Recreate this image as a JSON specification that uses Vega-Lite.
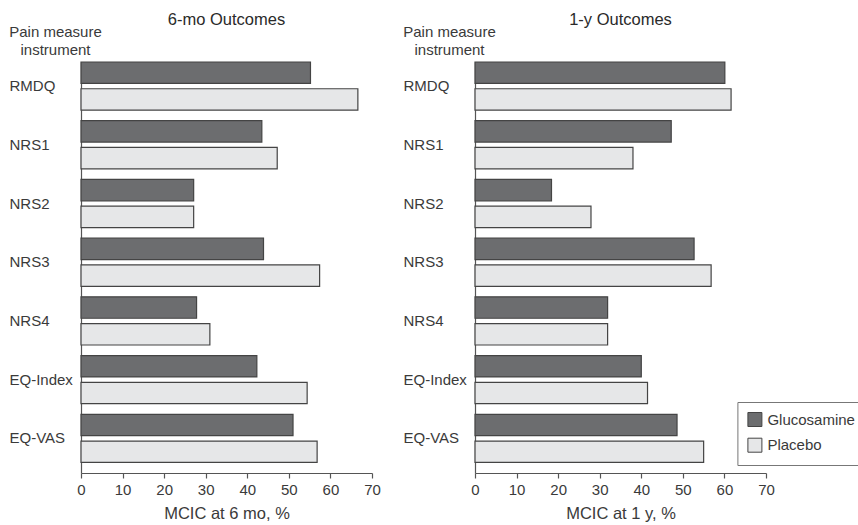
{
  "$schema": "https://vega.github.io/schema/vega-lite/v6.json",
  "padding": {"left": 8, "top": 12, "right": 0, "bottom": 3},
  "background": "white",
  "data": {"values": [
    {"period": "6mo", "instrument": "RMDQ", "group": "Glucosamine", "value": 55.2},
    {"period": "6mo", "instrument": "RMDQ", "group": "Placebo", "value": 66.6},
    {"period": "6mo", "instrument": "NRS1", "group": "Glucosamine", "value": 43.5},
    {"period": "6mo", "instrument": "NRS1", "group": "Placebo", "value": 47.2},
    {"period": "6mo", "instrument": "NRS2", "group": "Glucosamine", "value": 27.1},
    {"period": "6mo", "instrument": "NRS2", "group": "Placebo", "value": 27.1},
    {"period": "6mo", "instrument": "NRS3", "group": "Glucosamine", "value": 43.9},
    {"period": "6mo", "instrument": "NRS3", "group": "Placebo", "value": 57.4},
    {"period": "6mo", "instrument": "NRS4", "group": "Glucosamine", "value": 27.8},
    {"period": "6mo", "instrument": "NRS4", "group": "Placebo", "value": 31.0},
    {"period": "6mo", "instrument": "EQ-Index", "group": "Glucosamine", "value": 42.3},
    {"period": "6mo", "instrument": "EQ-Index", "group": "Placebo", "value": 54.4},
    {"period": "6mo", "instrument": "EQ-VAS", "group": "Glucosamine", "value": 51.0},
    {"period": "6mo", "instrument": "EQ-VAS", "group": "Placebo", "value": 56.8},
    {"period": "1y", "instrument": "RMDQ", "group": "Glucosamine", "value": 60.1},
    {"period": "1y", "instrument": "RMDQ", "group": "Placebo", "value": 61.6},
    {"period": "1y", "instrument": "NRS1", "group": "Glucosamine", "value": 47.2},
    {"period": "1y", "instrument": "NRS1", "group": "Placebo", "value": 38.0},
    {"period": "1y", "instrument": "NRS2", "group": "Glucosamine", "value": 18.4},
    {"period": "1y", "instrument": "NRS2", "group": "Placebo", "value": 27.9},
    {"period": "1y", "instrument": "NRS3", "group": "Glucosamine", "value": 52.7},
    {"period": "1y", "instrument": "NRS3", "group": "Placebo", "value": 56.8},
    {"period": "1y", "instrument": "NRS4", "group": "Glucosamine", "value": 31.9},
    {"period": "1y", "instrument": "NRS4", "group": "Placebo", "value": 31.9},
    {"period": "1y", "instrument": "EQ-Index", "group": "Glucosamine", "value": 40.0},
    {"period": "1y", "instrument": "EQ-Index", "group": "Placebo", "value": 41.5},
    {"period": "1y", "instrument": "EQ-VAS", "group": "Glucosamine", "value": 48.6},
    {"period": "1y", "instrument": "EQ-VAS", "group": "Placebo", "value": 55.0}
  ]},
  "spacing": 103,
  "bounds": "flush",
  "resolve": {"scale": {"color": "independent"}, "legend": {"color": "independent"}},
  "config": {
    "view": {"stroke": null},
    "font": "Liberation Sans",
    "axis": {
      "grid": false,
      "domainColor": "#555",
      "domainWidth": 1.2,
      "tickColor": "#555",
      "tickWidth": 1.2,
      "labelColor": "#3a3a3a",
      "titleColor": "#3a3a3a",
      "labelFont": "Liberation Sans",
      "titleFont": "Liberation Sans",
      "labelFontSize": 15,
      "titleFontWeight": "normal"
    },
    "title": {"font": "Liberation Sans", "fontSize": 16.5, "fontWeight": "normal", "color": "#2a2a2a", "baseline": "alphabetic", "offset": -4, "anchor": "middle", "frame": "group"}
  },
  "hconcat": [
    {
      "width": 291,
      "height": 411,
      "transform": [{"filter": "datum.period === '6mo'"}],
      "title": {"text": "6-mo Outcomes"},
      "mark": {"type": "bar", "stroke": "#444", "strokeWidth": 1.2},
      "encoding": {
        "y": {"field": "instrument", "type": "nominal", "sort": ["RMDQ", "NRS1", "NRS2", "NRS3", "NRS4", "EQ-Index", "EQ-VAS"],
          "scale": {"paddingInner": 0.18, "paddingOuter": 0.09, "align": 0},
          "axis": {"title": ["Pain measure", "instrument"], "titleAngle": 0, "titleAlign": "center", "titleBaseline": "alphabetic", "titleX": -26, "titleY": -25.5, "titleFontSize": 15, "titleLineHeight": 18, "labelAlign": "left", "labelPadding": 72, "ticks": false, "tickSize": 0}},
        "yOffset": {"field": "group", "sort": ["Glucosamine", "Placebo"], "scale": {"paddingInner": 0.2}},
        "x": {"field": "value", "type": "quantitative", "scale": {"domain": [0, 70], "nice": false},
          "axis": {"values": [0, 10, 20, 30, 40, 50, 60, 70], "title": "MCIC at 6 mo, %", "titleFontSize": 16.5, "tickSize": 5, "labelPadding": 4, "titlePadding": 8, "labelFlush": false, "labelOverlap": false}},
        "color": {"field": "group", "type": "nominal", "scale": {"domain": ["Glucosamine", "Placebo"], "range": ["#6c6d6f", "#e6e7e8"]}, "legend": null}
      }
    },
    {
      "width": 291,
      "height": 411,
      "transform": [{"filter": "datum.period === '1y'"}],
      "title": {"text": "1-y Outcomes"},
      "mark": {"type": "bar", "stroke": "#444", "strokeWidth": 1.2},
      "encoding": {
        "y": {"field": "instrument", "type": "nominal", "sort": ["RMDQ", "NRS1", "NRS2", "NRS3", "NRS4", "EQ-Index", "EQ-VAS"],
          "scale": {"paddingInner": 0.18, "paddingOuter": 0.09, "align": 0},
          "axis": {"title": ["Pain measure", "instrument"], "titleAngle": 0, "titleAlign": "center", "titleBaseline": "alphabetic", "titleX": -26, "titleY": -25.5, "titleFontSize": 15, "titleLineHeight": 18, "labelAlign": "left", "labelPadding": 72, "ticks": false, "tickSize": 0}},
        "yOffset": {"field": "group", "sort": ["Glucosamine", "Placebo"], "scale": {"paddingInner": 0.2}},
        "x": {"field": "value", "type": "quantitative", "scale": {"domain": [0, 70], "nice": false},
          "axis": {"values": [0, 10, 20, 30, 40, 50, 60, 70], "title": "MCIC at 1 y, %", "titleFontSize": 16.5, "tickSize": 5, "labelPadding": 4, "titlePadding": 8, "labelFlush": false, "labelOverlap": false}},
        "color": {"field": "group", "type": "nominal", "scale": {"domain": ["Glucosamine", "Placebo"], "range": ["#6c6d6f", "#e6e7e8"]},
          "legend": {"orient": "none", "legendX": 262.4, "legendY": 340, "title": null, "symbolType": "square", "symbolSize": 196, "symbolStrokeColor": "#444", "symbolStrokeWidth": 1, "labelFontSize": 15, "labelColor": "#3a3a3a", "labelOffset": 5, "padding": 10, "rowPadding": 6.7, "strokeColor": "#777", "cornerRadius": 0}}
      }
    }
  ]
}
